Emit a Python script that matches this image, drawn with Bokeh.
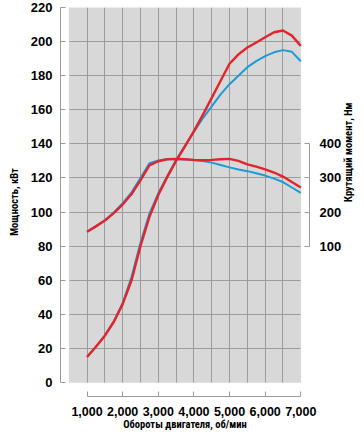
import math
from bokeh.plotting import figure
from bokeh.models import Range1d, LinearAxis, FixedTicker, NumeralTickFormatter, BoxAnnotation
from bokeh.embed import file_html
from bokeh.resources import INLINE

# ---- data ----
rpm = [1000, 1250, 1500, 1750, 2000, 2250, 2500, 2750, 3000, 3250, 3500, 3750,
       4000, 4250, 4500, 4750, 5000, 5250, 5500, 5750, 6000, 6250, 6500, 6750, 7000]
power_red = [15, 21, 27.5, 35.5, 46, 60, 80, 97, 110, 120.5, 130, 138.5,
             147.5, 157, 167, 177, 187, 192.5, 196.5, 199.5, 202.5, 205.5, 206.5, 203.5, 197.5]
power_blue = [15, 21, 27.5, 36, 46.5, 62, 82, 99, 111, 121, 130.5, 139,
              147, 155, 162, 169, 175, 180, 185, 188.5, 191.5, 193.7, 195, 194, 188.5]
torque_red = [142, 158, 175, 197, 222, 253, 293, 337, 349, 355, 356, 355,
              353, 352, 353, 355, 356, 350, 340, 333, 325, 316, 304, 288, 272]
torque_blue = [142, 159, 176, 199, 226, 258, 300, 343, 351, 355, 355, 354,
               352, 350, 345, 338, 331, 325, 320, 314, 307, 298, 288, 272, 256]

x_ticks = [1000, 2000, 3000, 4000, 5000, 6000, 7000]
power_ticks = [0, 20, 40, 60, 80, 100, 120, 140, 160, 180, 200, 220]
torque_ticks = [100, 200, 300, 400]
x_grid = [1000, 1500, 2000, 2500, 3000, 3500, 4000, 4500, 5000, 5500, 6000, 6500]
y_grid = [20, 40, 60, 80, 100, 120, 140, 160, 180, 200]

x_label = "Обороты двигателя, об/мин"
power_label = "Мощность, кВт"
torque_label = "Крутящий момент, Нм"

# ---- layout constants ----
X_MIN, X_MAX = 500, 7000
Y_MIN, Y_MAX = 0, 220
X_PAD, Y_PAD = 245, 8.2
# torque scale: 100 Nm <-> 80 kW, 400 Nm <-> 140 kW
def kw_to_nm(v):
    return 100 + (v - 80) * (300 / 60)

RED = "#e5232b"
BLUE = "#1d9ad6"
LABEL_FONT = "Roboto Condensed, DejaVu Sans Condensed, Liberation Sans Narrow, Liberation Sans, sans-serif"
TICK_FONT = "Liberation Sans, Arial, sans-serif"

p = figure(width=364, height=434, output_backend="svg", toolbar_location=None,
           x_range=Range1d(X_MIN - X_PAD, X_MAX + X_PAD),
           y_range=Range1d(Y_MIN - Y_PAD, Y_MAX),
           x_axis_location=None, y_axis_location=None,
           min_border_top=7, min_border_left=60, min_border_right=48, min_border_bottom=38)
p.outline_line_color = None
p.background_fill_color = "white"
p.border_fill_color = "white"
p.extra_y_ranges = {"torque": Range1d(kw_to_nm(Y_MIN - Y_PAD), kw_to_nm(Y_MAX))}

# grey plotting area
p.add_layout(BoxAnnotation(left=X_MIN, right=X_MAX, bottom=Y_MIN, top=Y_MAX,
                           fill_color="#d8d8d8", fill_alpha=1.0,
                           line_color="#c4c4c4", line_width=1, level="image"))

AX_COLOR = "#9a9a9a"

def style_axis(ax, size):
    ax.axis_line_color = AX_COLOR
    ax.major_tick_line_color = AX_COLOR
    ax.major_tick_in = 5
    ax.major_tick_out = 0
    ax.minor_tick_line_color = None
    ax.major_label_text_font = TICK_FONT
    ax.major_label_text_font_style = "bold"
    ax.major_label_text_font_size = size
    ax.major_label_text_color = "black"
    ax.major_label_text_line_height = 1.0
    ax.axis_label_text_font = LABEL_FONT
    ax.axis_label_text_font_style = "bold"
    ax.axis_label_text_font_size = "10.5px"
    ax.axis_label_text_color = "black"
    ax.axis_label_text_line_height = 1.0

xa = LinearAxis(ticker=FixedTicker(ticks=x_ticks), bounds=(x_ticks[0], x_ticks[-1]),
                formatter=NumeralTickFormatter(format="0,0"), axis_label=x_label)
style_axis(xa, "12.5px")
xa.major_label_standoff = 10
xa.axis_label_standoff = -1
p.add_layout(xa, "below")

ya = LinearAxis(ticker=FixedTicker(ticks=power_ticks), bounds=(Y_MIN, Y_MAX), axis_label=power_label)
style_axis(ya, "13px")
ya.major_label_standoff = 8
ya.axis_label_standoff = 7
p.add_layout(ya, "left")

ta = LinearAxis(y_range_name="torque", ticker=FixedTicker(ticks=torque_ticks),
                bounds=(torque_ticks[0], torque_ticks[-1]), axis_label=torque_label)
style_axis(ta, "13px")
ta.major_label_standoff = 10
ta.axis_label_standoff = 4
try:
    ta.axis_label_orientation = math.pi / 2
except Exception:
    pass
p.add_layout(ta, "right")

# grid lines restricted to the grey area
p.xgrid.ticker = FixedTicker(ticks=x_grid)
p.ygrid.ticker = FixedTicker(ticks=y_grid)
for g in (p.xgrid, p.ygrid):
    g.grid_line_color = "#9c9c9c"
    g.grid_line_width = 1
    g.level = "underlay"
p.xgrid.cross_bounds = (Y_MIN, Y_MAX)
p.ygrid.cross_bounds = (X_MIN, X_MAX)

# curves
p.line(rpm, power_blue, color=BLUE, line_width=2, line_join="round")
p.line(rpm, torque_blue, color=BLUE, line_width=2, line_join="round", y_range_name="torque")
p.line(rpm, power_red, color=RED, line_width=2.4, line_join="round")
p.line(rpm, torque_red, color=RED, line_width=2.4, line_join="round", y_range_name="torque")

open("out.html", "w").write(file_html(p, INLINE))
